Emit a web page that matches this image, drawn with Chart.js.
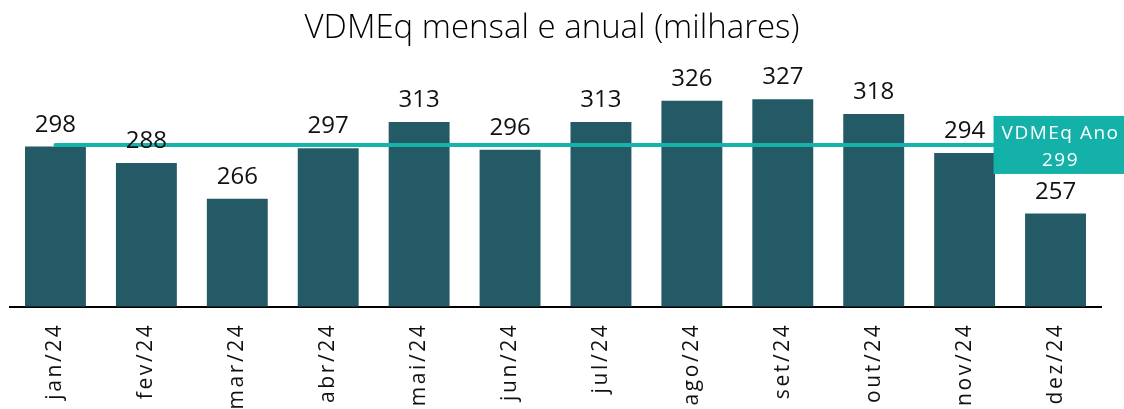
<!DOCTYPE html>
<html>
<head>
<meta charset="utf-8">
<script src="https://cdn.jsdelivr.net/npm/chart.js@4.4.1/dist/chart.umd.min.js"></script>
<style>
  html, body { margin: 0; padding: 0; background: #ffffff; }
  #chart { display: block; }
</style>
</head>
<body>
<canvas id="chart" width="1124" height="409"></canvas>
<script>
// --- DATA ---
const months = ['jan/24', 'fev/24', 'mar/24', 'abr/24', 'mai/24', 'jun/24',
                'jul/24', 'ago/24', 'set/24', 'out/24', 'nov/24', 'dez/24'];
const monthlyValues = [298, 288, 266, 297, 313, 296, 313, 326, 327, 318, 294, 257];
const annualAvg = [299, 299, 299, 299, 299, 299, 299, 299, 299, 299, 299, 299];
const annualLabel = 'VDMEq Ano';
const chartTitle = 'VDMEq mensal e anual (milhares)';

const barColor = '#235a66';
const lineColor = '#16b3aa';

// wider spacing for the tick labels, only while drawing
const spacingPlugin = {
    id: 'spacing',
    beforeDraw(chart) { chart.ctx.letterSpacing = '2.6px'; }
};

// title drawn by hand so it keeps normal spacing
const titlePlugin = {
    id: 'ownTitle',
    afterDraw(chart) {
        const ctx = chart.ctx;
        ctx.save();
        ctx.letterSpacing = '0px';
        ctx.font = "300 33px 'Open Sans', sans-serif";
        ctx.fillStyle = '#000';
        ctx.textAlign = 'center';
        ctx.textBaseline = 'alphabetic';
        ctx.fillText(chartTitle, 552, 38);
        ctx.restore();
    }
};

// value labels above bars + the yearly average box
const labelPlugin = {
    id: 'valueLabels',
    afterDatasetsDraw(chart) {
        const ctx = chart.ctx;
        const meta = chart.getDatasetMeta(1);
        ctx.save();
        ctx.letterSpacing = '0px';
        ctx.font = "24px 'Open Sans', sans-serif";
        ctx.fillStyle = '#111';
        ctx.textAlign = 'center';
        ctx.textBaseline = 'alphabetic';
        meta.data.forEach((bar, i) => {
            ctx.fillText(monthlyValues[i], bar.x, bar.y - 15);
        });

        // average box on the last month
        const x = chart.scales.x.getPixelForValue(annualAvg.length - 1) + 5;
        const y = chart.scales.y.getPixelForValue(annualAvg[annualAvg.length - 1]);
        const w = 134, h = 58;
        ctx.fillStyle = '#14b1a8';
        ctx.fillRect(x - w / 2, y - h / 2, w, h);
        ctx.fillStyle = '#ffffff';
        ctx.letterSpacing = '1.5px';
        ctx.font = "19px 'Open Sans', sans-serif";
        ctx.fillText(annualLabel, x, y - 6);
        ctx.fillText(annualAvg[annualAvg.length - 1], x, y + 21);
        ctx.restore();
    }
};

new Chart(document.getElementById('chart'), {
    data: {
        labels: months,
        datasets: [{
            type: 'line',
            label: 'VDMEq Ano',
            data: annualAvg,
            borderColor: lineColor,
            borderWidth: 4,
            pointRadius: 0,
            borderCapStyle: 'round',
            order: 0
        }, {
            type: 'bar',
            label: 'VDMEq',
            data: monthlyValues,
            backgroundColor: barColor,
            barPercentage: 0.67,
            categoryPercentage: 1,
            order: 1
        }]
    },
    options: {
        responsive: false,
        animation: false,
        layout: { padding: { top: 78, left: 10, right: 23, bottom: -1 } },
        scales: {
            y: { display: false, min: 200, max: 340 },
            x: {
                grid: { display: false, drawTicks: false },
                border: { display: true, color: '#000', width: 2 },
                ticks: {
                    color: '#111',
                    padding: 16,
                    minRotation: 90,
                    maxRotation: 90,
                    font: { family: "'Open Sans', sans-serif", size: 21 }
                }
            }
        },
        plugins: {
            legend: { display: false },
            title: { display: false },
            tooltip: { enabled: false }
        }
    },
    plugins: [spacingPlugin, titlePlugin, labelPlugin]
});
</script>
</body>
</html>
